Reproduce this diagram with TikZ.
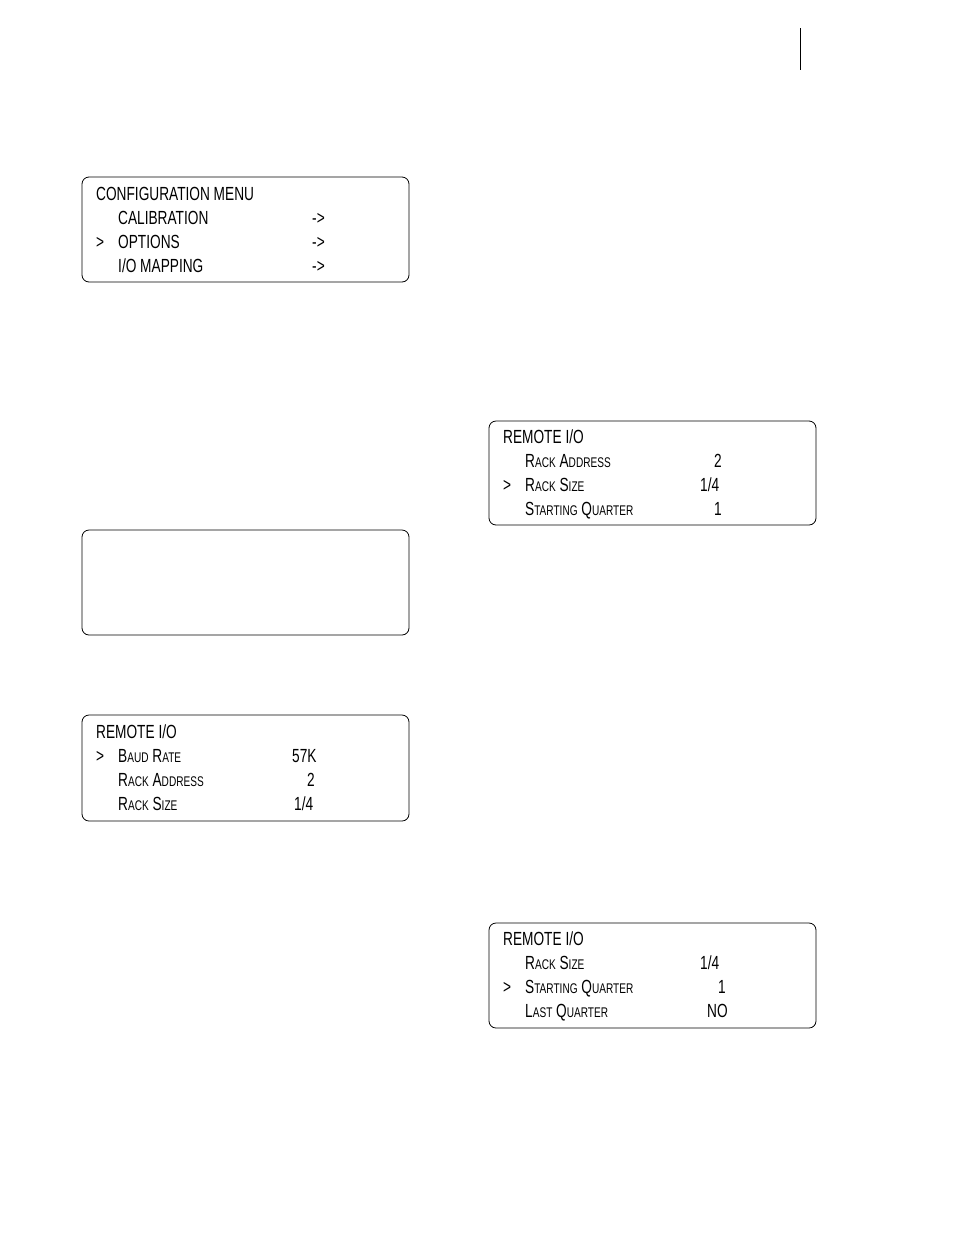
\documentclass[tikz,border=0pt]{standalone}
\usepackage{fontspec}
\setmainfont{Liberation Sans}
\newcommand{\lcd}[1]{\scalebox{0.72}[1]{#1}}
\newcommand{\sm}[1]{{\fontsize{14}{14}\selectfont #1}}
\tikzset{
  lcdbox/.style={draw, thick, rounded corners=7pt},
  lcdtext/.style={anchor=base west, inner sep=0pt, font=\fontsize{19}{19}\selectfont},
}
\begin{document}
\begin{tikzpicture}[x=1pt,y=-1pt]
    \useasboundingbox (0,0) rectangle (954,1235);
    \draw[thick] (800,28) -- (800,70);
    % configuration menu
    \draw[lcdbox] (82,177) rectangle (409,282);
    \node[lcdtext] (cfgt) at (96,200) {\lcd{CONFIGURATION MENU}};
    \node[lcdtext] (cfga) at (118,224) {\lcd{CALIBRATION}};
    \node[lcdtext] (cfgb) at (118,248) {\lcd{OPTIONS}};
    \node[lcdtext] (cfgc) at (118,272) {\lcd{I/O MAPPING}};
    \node[lcdtext] (cfgm) at (96,248) {\lcd{>}};
    \node[lcdtext] (cfgva) at (312,224) {\lcd{->}};
    \node[lcdtext] (cfgvb) at (312,248) {\lcd{->}};
    \node[lcdtext] (cfgvc) at (312,272) {\lcd{->}};
    % empty display
    \draw[lcdbox] (82,530) rectangle (409,635);
    % remote i/o, baud rate
    \draw[lcdbox] (82,715) rectangle (409,821);
    \node[lcdtext] (rat) at (96,738) {\lcd{REMOTE I/O}};
    \node[lcdtext] (ram) at (96,762) {\lcd{>}};
    \node[lcdtext] (raa) at (118,762) {\lcd{B\sm{AUD} R\sm{ATE}}};
    \node[lcdtext] (rab) at (118,786) {\lcd{R\sm{ACK} A\sm{DDRESS}}};
    \node[lcdtext] (rac) at (118,810) {\lcd{R\sm{ACK} S\sm{IZE}}};
    \node[lcdtext] (rava) at (292,762) {\lcd{57K}};
    \node[lcdtext] (ravb) at (307,786) {\lcd{2}};
    \node[lcdtext] (ravc) at (294,810) {\lcd{1/4}};
    % remote i/o, rack size
    \draw[lcdbox] (489,421) rectangle (816,525);
    \node[lcdtext] (rbt) at (503,443) {\lcd{REMOTE I/O}};
    \node[lcdtext] (rbm) at (503,491) {\lcd{>}};
    \node[lcdtext] (rba) at (525,467) {\lcd{R\sm{ACK} A\sm{DDRESS}}};
    \node[lcdtext] (rbb) at (525,491) {\lcd{R\sm{ACK} S\sm{IZE}}};
    \node[lcdtext] (rbc) at (525,515) {\lcd{S\sm{TARTING} Q\sm{UARTER}}};
    \node[lcdtext] (rbva) at (714,467) {\lcd{2}};
    \node[lcdtext] (rbvb) at (700,491) {\lcd{1/4}};
    \node[lcdtext] (rbvc) at (714,515) {\lcd{1}};
    % remote i/o, starting quarter
    \draw[lcdbox] (489,923) rectangle (816,1028);
    \node[lcdtext] (rct) at (503,945) {\lcd{REMOTE I/O}};
    \node[lcdtext] (rcm) at (503,993) {\lcd{>}};
    \node[lcdtext] (rca) at (525,969) {\lcd{R\sm{ACK} S\sm{IZE}}};
    \node[lcdtext] (rcb) at (525,993) {\lcd{S\sm{TARTING} Q\sm{UARTER}}};
    \node[lcdtext] (rcc) at (525,1017) {\lcd{L\sm{AST} Q\sm{UARTER}}};
    \node[lcdtext] (rcva) at (700,969) {\lcd{1/4}};
    \node[lcdtext] (rcvb) at (718,993) {\lcd{1}};
    \node[lcdtext] (rcvc) at (707,1017) {\lcd{NO}};
\end{tikzpicture}
\end{document}
